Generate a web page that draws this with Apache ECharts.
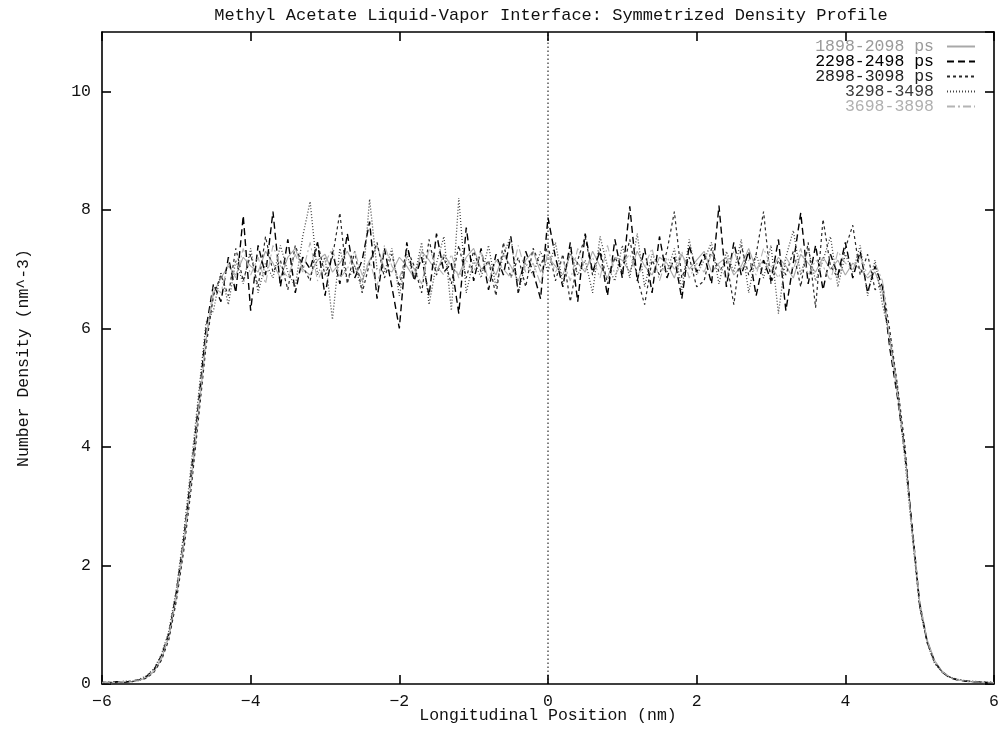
<!DOCTYPE html>
<html>
<head>
<meta charset="utf-8">
<script src="https://cdn.jsdelivr.net/npm/echarts@6/dist/echarts.min.js"></script>
<style>html,body{margin:0;padding:0;background:#fff}#c{width:1000px;height:729px}</style>
</head>
<body>
<div id="c"></div>
<script>
const titleText = "Methyl Acetate Liquid-Vapor Interface: Symmetrized Density Profile";
const xName = "Longitudinal Position (nm)";
const yName = "Number Density (nm^-3)";
const seriesNames = ["1898-2098 ps", "2298-2498 ps", "2898-3098 ps", "3298-3498", "3698-3898"];
const xTicks = [-6, -4, -2, 0, 2, 4, 6];
const yTicks = [0, 2, 4, 6, 8, 10];

const xPos = [
-6.0,-5.9,-5.8,-5.7,-5.6,-5.5,-5.4,-5.3,-5.2,-5.1,
-5.0,-4.9,-4.8,-4.7,-4.6,-4.5,-4.4,-4.3,-4.2,-4.1,
-4.0,-3.9,-3.8,-3.7,-3.6,-3.5,-3.4,-3.3,-3.2,-3.1,
-3.0,-2.9,-2.8,-2.7,-2.6,-2.5,-2.4,-2.3,-2.2,-2.1,
-2.0,-1.9,-1.8,-1.7,-1.6,-1.5,-1.4,-1.3,-1.2,-1.1,
-1.0,-0.9,-0.8,-0.7,-0.6,-0.5,-0.4,-0.3,-0.2,-0.1,
0.0,
0.1,0.2,0.3,0.4,0.5,0.6,0.7,0.8,0.9,1.0,
1.1,1.2,1.3,1.4,1.5,1.6,1.7,1.8,1.9,2.0,
2.1,2.2,2.3,2.4,2.5,2.6,2.7,2.8,2.9,3.0,
3.1,3.2,3.3,3.4,3.5,3.6,3.7,3.8,3.9,4.0,
4.1,4.2,4.3,4.4,4.5,4.6,4.7,4.8,4.9,5.0,
5.1,5.2,5.3,5.4,5.5,5.6,5.7,5.8,5.9,6.0
];

const dens1898 = [
0.02,0.02,0.03,0.03,0.04,0.06,0.11,0.21,0.42,0.80,
1.45,2.35,3.40,4.60,5.80,6.60,6.85,7.05,6.90,7.20,
7.05,6.95,7.30,7.10,6.85,7.20,7.35,7.00,6.90,7.15,
7.25,6.95,7.10,7.30,7.05,6.80,7.15,7.40,7.00,6.95,
7.20,7.05,6.85,7.30,7.15,6.95,7.25,7.05,6.90,7.20,
7.35,7.00,7.10,6.90,7.25,7.05,6.80,7.15,7.30,6.95,
7.20,
7.05,6.90,7.25,7.10,6.95,7.30,7.05,6.85,7.20,7.15,
6.95,7.30,7.05,6.90,7.20,7.10,6.85,7.25,7.00,7.15,
7.30,6.95,7.10,7.20,6.90,7.05,7.35,7.00,7.15,6.95,
7.20,7.05,6.85,7.25,7.10,6.95,7.20,7.00,7.15,6.90,
7.10,7.00,6.85,6.95,6.60,5.80,4.95,3.95,2.60,1.40,
0.75,0.40,0.22,0.12,0.07,0.05,0.04,0.03,0.03,0.02
];
const dens2298 = [
0.03,0.02,0.04,0.03,0.05,0.07,0.13,0.24,0.48,0.85,
1.55,2.45,3.55,4.75,6.00,6.75,6.45,7.20,6.60,7.90,
6.30,7.40,6.90,7.97,6.70,7.50,6.60,7.20,7.00,7.45,
6.55,7.30,6.75,7.60,6.85,7.15,7.80,6.50,7.35,6.70,
6.00,7.45,6.80,7.20,6.55,7.60,6.95,7.10,6.25,7.70,
6.80,7.35,6.65,7.25,6.90,7.55,6.60,7.30,6.95,6.50,
7.87,
7.20,6.70,7.45,6.45,7.60,6.95,7.30,6.55,7.50,6.85,
8.06,6.80,7.35,6.60,7.55,6.85,7.20,6.50,7.40,6.95,
7.25,6.75,8.07,6.70,7.45,6.90,7.30,6.55,7.15,6.80,
7.50,6.30,7.10,7.95,6.75,7.40,6.65,7.25,6.90,7.45,
6.85,7.30,6.60,7.05,6.70,5.65,4.85,3.90,2.65,1.35,
0.72,0.38,0.20,0.11,0.07,0.05,0.04,0.03,0.02,0.02
];
const dens2898 = [
0.01,0.03,0.02,0.04,0.04,0.06,0.10,0.20,0.40,0.75,
1.40,2.25,3.30,4.50,5.70,6.55,6.90,6.55,7.35,6.80,
7.25,6.70,7.55,6.95,7.15,6.65,7.40,7.05,6.80,7.45,
6.90,7.20,7.95,6.75,7.30,6.60,7.10,7.45,6.85,7.25,
6.70,7.35,7.05,6.60,7.50,6.90,7.20,6.75,7.40,6.85,
7.30,6.95,7.15,6.55,7.45,6.85,7.20,6.70,7.35,7.05,
7.40,
6.80,7.25,6.45,7.15,7.55,6.90,7.35,6.75,7.20,6.95,
7.50,6.85,6.40,7.15,6.90,7.30,7.97,6.85,7.20,6.70,
6.80,7.35,6.95,7.15,6.40,7.40,6.90,7.25,7.97,6.75,
7.15,6.90,7.30,6.70,7.45,6.35,7.84,7.05,6.85,7.35,
7.74,6.90,7.25,6.65,6.75,5.95,5.05,4.05,2.55,1.30,
0.70,0.36,0.21,0.12,0.08,0.05,0.04,0.04,0.03,0.02
];
const dens3298 = [
0.02,0.03,0.02,0.05,0.04,0.08,0.14,0.26,0.50,0.90,
1.60,2.55,3.70,4.90,6.10,6.30,6.95,6.40,7.15,6.75,
7.35,6.60,7.10,6.85,7.40,6.95,6.70,7.55,8.14,6.90,
7.20,6.15,7.35,6.80,7.05,6.65,8.18,7.00,6.95,7.35,
6.55,7.25,6.85,7.45,6.40,7.10,7.55,6.30,8.20,6.60,
7.15,6.85,7.40,6.70,7.25,7.55,6.60,7.10,6.90,7.30,
6.95,
7.45,6.75,7.30,6.90,7.15,6.60,7.55,7.05,6.80,7.40,
6.85,7.60,6.70,7.25,7.05,6.95,7.35,6.65,7.50,6.90,
7.15,7.45,6.75,7.30,6.95,7.50,6.60,7.25,6.85,7.40,
6.25,7.20,7.65,6.90,7.35,6.80,7.15,7.55,6.70,7.25,
6.95,7.40,6.55,7.15,6.40,5.85,5.00,3.80,2.50,1.30,
0.70,0.35,0.20,0.12,0.08,0.06,0.05,0.04,0.03,0.03
];
const dens3698 = [
0.03,0.02,0.03,0.04,0.05,0.06,0.12,0.22,0.45,0.82,
1.50,2.40,3.45,4.65,5.85,6.70,6.60,7.10,6.85,7.35,
6.90,7.20,6.75,7.40,7.05,6.85,7.25,6.95,7.45,6.80,
7.10,7.35,6.85,7.00,7.30,6.90,7.15,6.70,7.40,7.05,
6.85,7.20,7.00,6.75,7.35,7.05,6.90,7.25,6.85,7.15,
6.95,7.30,6.80,7.15,7.00,6.85,7.40,6.95,7.10,6.75,
7.30,
6.95,7.15,6.80,7.35,7.00,7.20,6.85,7.40,6.90,7.10,
7.25,6.90,7.05,7.35,6.80,7.20,7.00,7.30,6.85,7.10,
6.95,7.25,7.05,6.85,7.30,7.00,7.15,6.90,7.35,7.05,
6.85,7.20,7.00,7.35,6.90,7.15,7.05,6.80,7.30,7.10,
7.00,7.20,6.90,7.10,6.80,5.75,4.90,3.85,2.60,1.38,
0.74,0.39,0.21,0.12,0.07,0.05,0.04,0.03,0.02,0.02
];

const allDens = [dens1898, dens2298, dens2898, dens3298, dens3698];
const lineColors = ['#a8a8a8', '#000000', '#2a2a2a', '#444444', '#b4b4b4'];
const textColors = ['#9a9a9a', '#000000', '#222222', '#3a3a3a', '#b0b0b0'];
const dashTypes = ['solid', [7, 4], [3, 3], [1, 2], [8, 3, 2, 3]];
const lineWidths = [1.1, 1.4, 1.2, 1.3, 1.1];

const FONT = 'Liberation Mono';
const chart = echarts.init(document.getElementById('c'), null, {renderer: 'canvas'});

const series = allDens.map((d, k) => ({
  name: seriesNames[k],
  type: 'line',
  data: xPos.map((x, i) => [x, d[i]]),
  symbol: 'none',
  showSymbol: false,
  lineStyle: {color: lineColors[k], width: lineWidths[k], type: dashTypes[k]},
  itemStyle: {color: lineColors[k]},
  z: 2 + (k === 1 ? 3 : k)
}));
series.push({
  name: 'zero',
  type: 'line',
  data: [[0, 0], [0, 11]],
  symbol: 'none',
  lineStyle: {color: '#000', width: 1, type: [1.5, 2.5]},
  silent: true,
  z: 1
});

const axisCommon = {
  axisLine: {show: true, onZero: false, lineStyle: {color: '#000', width: 1.6}},
  axisTick: {show: true, inside: true, length: 9, lineStyle: {color: '#000', width: 1.6}},
  splitLine: {show: false}
};

chart.setOption({
  animation: false,
  backgroundColor: '#fff',
  title: {
    text: titleText,
    left: 546, top: 2, textAlign: 'center',
    textStyle: {fontFamily: FONT, fontSize: 17, fontWeight: 'normal', color: '#111'}
  },
  legend: {
    data: seriesNames.map((n, k) => ({name: n, textStyle: {color: textColors[k]}})),
    orient: 'vertical',
    align: 'right',
    right: 19, top: 33,
    itemWidth: 28, itemHeight: 10, itemGap: -2,
    itemStyle: {opacity: 0},
    textStyle: {fontFamily: FONT, fontSize: 16.5, padding: [0, 8, 0, 0]},
    selectedMode: false
  },
  grid: {left: 102, right: 6, top: 32, bottom: 45, containLabel: false, outerBoundsMode: 'none'},
  xAxis: [
    Object.assign({}, axisCommon, {
      type: 'value', min: -6, max: 6, interval: 2, position: 'bottom',
      name: xName, nameLocation: 'middle', nameGap: 23, nameMoveOverlap: false,
      nameTextStyle: {fontFamily: FONT, fontSize: 16.5, color: '#111'},
      axisLabel: {fontFamily: FONT, fontSize: 16.5, color: '#111', margin: 9,
        formatter: v => (xTicks.indexOf(v) >= 0 ? String(v).replace('-', '\u2212') : '')}
    }),
    Object.assign({}, axisCommon, {
      type: 'value', min: -6, max: 6, interval: 2, position: 'top',
      axisLabel: {show: false}
    })
  ],
  yAxis: [
    Object.assign({}, axisCommon, {
      type: 'value', min: 0, max: 11, interval: 2, position: 'left',
      name: yName, nameLocation: 'middle', nameGap: 70, nameRotate: 90, nameMoveOverlap: false,
      nameTextStyle: {fontFamily: FONT, fontSize: 16.5, color: '#111'},
      axisLabel: {fontFamily: FONT, fontSize: 16.5, color: '#111', margin: 11,
        showMaxLabel: false,
        formatter: v => (yTicks.indexOf(v) >= 0 ? String(v) : '')}
    }),
    Object.assign({}, axisCommon, {
      type: 'value', min: 0, max: 11, interval: 2, position: 'right',
      axisLabel: {show: false}
    })
  ],
  series: series
});
</script>
</body>
</html>
